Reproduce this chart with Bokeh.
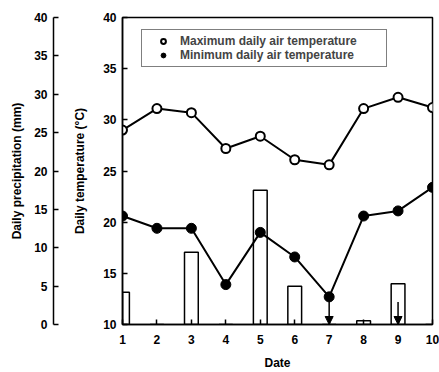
from bokeh.plotting import figure
from bokeh.models import (Range1d, LinearAxis, ColumnDataSource, Legend, LegendItem,
                          Arrow, NormalHead, FixedTicker)
from bokeh.embed import file_html
from bokeh.resources import INLINE

days = [1, 2, 3, 4, 5, 6, 7, 8, 9, 10]
tmax = [29.0, 31.1, 30.7, 27.2, 28.4, 26.1, 25.6, 31.1, 32.2, 31.2]
tmin = [20.6, 19.4, 19.4, 13.9, 19.0, 16.6, 12.7, 20.6, 21.1, 23.4]
precip = [4.2, 0, 9.4, 0, 17.5, 5.0, 0, 0.5, 5.3, 0]
arrow_days = [7, 9]
arrow_from = [12.7, 12.2]
arrow_to = [10, 10]
temp_ticks = [10, 15, 20, 25, 30, 35, 40]
precip_ticks = [0, 5, 10, 15, 20, 25, 30, 35, 40]

FONT = "Liberation Sans"
FS = "12px"
FSTYLE = "bold"

p = figure(width=439, height=372, x_range=Range1d(1, 10), y_range=Range1d(10, 40),
           output_backend="svg", toolbar_location=None,
           min_border_left=122, min_border_right=7, min_border_top=17, min_border_bottom=47)
p.extra_y_ranges = {"precip": Range1d(0, 40)}
p.xgrid.visible = False
p.ygrid.visible = False
p.outline_line_color = "black"
p.outline_line_width = 1.5
p.background_fill_color = "white"
p.border_fill_color = "white"


def style_axis(ax, label, ticks, standoff_label):
    ax.ticker = FixedTicker(ticks=ticks)
    ax.axis_label = label
    ax.axis_line_color = "black"
    ax.axis_line_width = 1.5
    ax.major_tick_in = 5
    ax.major_tick_out = 0
    ax.major_tick_line_width = 1.5
    ax.minor_tick_line_color = None
    ax.major_label_text_font = FONT
    ax.major_label_text_font_size = FS
    ax.major_label_text_font_style = FSTYLE
    ax.major_label_text_color = "black"
    ax.axis_label_text_font = FONT
    ax.axis_label_text_font_size = FS
    ax.axis_label_text_font_style = FSTYLE
    ax.axis_label_text_color = "black"
    ax.major_label_standoff = 6
    ax.axis_label_standoff = standoff_label


style_axis(p.yaxis[0], "Daily temperature (°C)", temp_ticks, 13)
style_axis(p.xaxis[0], "Date", days, 9)
p.xaxis[0].major_label_standoff = 10

spacer = LinearAxis(ticker=FixedTicker(ticks=[]), axis_line_color=None,
                    major_tick_in=0, major_tick_out=0, minor_tick_line_color=None,
                    major_label_text_font_size="0px", axis_label="\u2002",
                    axis_label_text_font_size="12px", axis_label_text_alpha=0,
                    axis_label_standoff=0)
p.add_layout(spacer, "left")

pax = LinearAxis(y_range_name="precip")
style_axis(pax, "Daily precipitation (mm)", precip_ticks, 7)
p.add_layout(pax, "left")

src = ColumnDataSource(dict(day=days, tmax=tmax, tmin=tmin, precip=precip))

p.vbar(x="day", top="precip", bottom=0, width=0.4, source=src, y_range_name="precip",
       fill_alpha=0, line_color="black", line_width=1.5)

p.line("day", "tmax", source=src, line_color="black", line_width=2)
p.line("day", "tmin", source=src, line_color="black", line_width=2)
r_max = p.scatter("day", "tmax", source=src, size=9, marker="circle",
                  fill_color="white", line_color="black", line_width=2)
r_min = p.scatter("day", "tmin", source=src, size=10, marker="circle",
                  fill_color="black", line_color="black", line_width=1)

asrc = ColumnDataSource(dict(x=arrow_days, y0=arrow_from, y1=arrow_to))
p.add_layout(Arrow(end=NormalHead(size=8, fill_color="black", line_color="black", line_width=1),
                   x_start="x", y_start="y0", x_end="x", y_end="y1", source=asrc,
                   line_color="black", line_width=1.5))

legend = Legend(items=[LegendItem(label="Maximum daily air temperature", renderers=[r_max]),
                       LegendItem(label="Minimum daily air temperature", renderers=[r_min])],
                location=(19, 257))
legend.border_line_color = "black"
legend.border_line_width = 1
legend.label_text_font = FONT
legend.label_text_font_size = FS
legend.label_text_font_style = FSTYLE
legend.label_height = 12
legend.glyph_height = 12
legend.glyph_width = 34
legend.label_width = 202
legend.spacing = 0
legend.padding = 4
legend.margin = 0
legend.label_standoff = 0
p.add_layout(legend)

open("out.html", "w").write(file_html(p, INLINE))
